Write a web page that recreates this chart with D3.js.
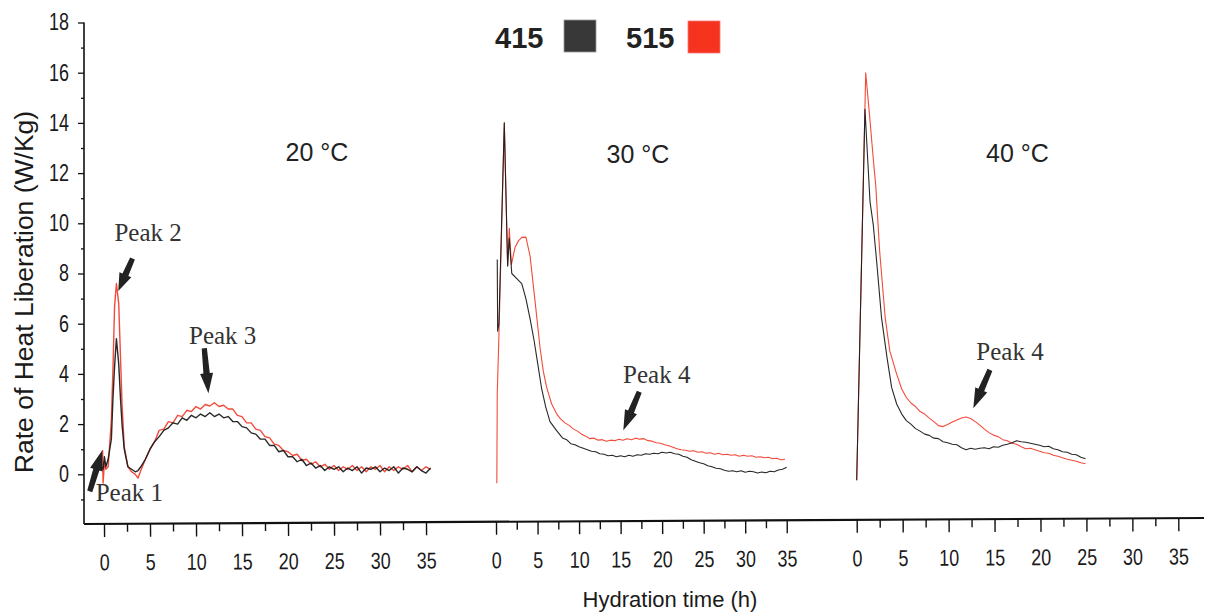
<!DOCTYPE html>
<html><head><meta charset="utf-8">
<script src="https://cdn.jsdelivr.net/npm/d3@7"></script>
<style>html,body{margin:0;padding:0;background:#fff;} svg{display:block;}</style>
</head><body>
<svg id="chart" width="1207" height="613"></svg>
<script>
// ================= DATA =================
const seriesNames = ["415", "515"];
const panelTitles = ["20 °C", "30 °C", "40 °C"];
const xTickValues = [0, 5, 10, 15, 20, 25, 30, 35];
const xMinorTicks = [2.5, 7.5, 12.5, 17.5, 22.5, 27.5, 32.5];
const yTickValues = [0, 2, 4, 6, 8, 10, 12, 14, 16, 18];
const yMinorTicks = [-1, 1, 3, 5, 7, 9, 11, 13, 15, 17];
const yTitle = "Rate of Heat Liberation (W/Kg)";
const xTitle = "Hydration time (h)";

// 20 °C  (hydration time h, rate W/kg)
const t20 = [-0.15,-0.1,0.05,0.2,0.45,0.8,0.97,1.15,1.35,1.6,1.78,1.96,2.2,2.6,3.0,3.4,3.7,4.0,
  4.5,5,5.5,6,6.5,7,7.5,8,8.5,9,9.5,10,10.5,11,11.5,12,12.5,13,13.5,14,14.5,15,15.5,16,16.5,17,17.5,18,
  18.5,19,19.5,20,20.5,21,21.5,22,22.5,23,23.5,24,24.5,25,25.5,26,26.5,27,27.5,28,28.5,29,29.5,30,30.5,
  31,31.5,32,32.5,33,33.5,34,34.5,35,35.5];
const v20_415 = [0.3,0.2,0.7,0.3,0.6,1.4,3.0,4.3,5.4,4.4,3.1,2.0,1.0,0.3,0.2,0.1,0.15,0.3,
  0.6,1.0,1.3,1.5,1.75,1.85,2.05,2.0,2.25,2.15,2.35,2.25,2.4,2.3,2.45,2.3,2.4,2.25,2.3,2.1,2.1,1.9,1.85,1.65,1.6,1.4,1.4,1.15,
  1.15,0.9,0.95,0.7,0.7,0.5,0.6,0.35,0.45,0.25,0.35,0.15,0.3,0.2,0.3,0.1,0.25,0.15,0.3,0.05,0.25,0.2,0.3,0.1,0.25,
  0.15,0.3,0.05,0.25,0.2,0.1,0.3,0.15,0.05,0.25];
const v20_515 = [0.97,-0.35,0.5,0.2,0.3,2.16,4.15,6.7,7.6,6.8,4.8,2.8,1.1,0.3,0.1,0.0,-0.15,0.15,
  0.6,1.0,1.3,1.75,1.8,2.1,2.05,2.35,2.3,2.55,2.5,2.7,2.6,2.78,2.72,2.85,2.7,2.75,2.6,2.6,2.35,2.3,2.05,2.05,1.8,1.75,1.5,1.45,
  1.2,1.15,0.95,0.9,0.75,0.8,0.55,0.6,0.4,0.5,0.3,0.4,0.2,0.35,0.15,0.3,0.2,0.35,0.15,0.3,0.1,0.3,0.2,0.35,0.1,
  0.3,0.15,0.3,0.2,0.35,0.1,0.3,0.15,0.3,0.2];

// 30 °C
const t30_415 = [0.15,0.2,0.35,1.0,1.4,1.6,1.9,2.5,3.1,3.6,4.1,4.6,5.1,5.5,6.0,6.5,7.3,
  8,8.5,9,9.5,10,10.5,11,11.5,12,12.5,13,13.5,14,14.5,15,15.5,16,16.5,17,17.5,18,18.5,19,19.5,20,20.5,
  21,21.5,22,22.5,23,23.5,24,24.5,25,25.5,26,26.5,27,27.5,28,28.5,29,29.5,30,30.5,31,31.5,32,32.5,33,33.5,34,34.5,35];
const v30_415 = [8.56,5.7,6.0,14.0,8.3,9.4,8.0,7.8,7.6,7.0,6.2,5.3,4.25,3.4,2.67,2.1,1.74,
  1.45,1.38,1.22,1.18,1.1,1.04,0.98,0.92,0.9,0.82,0.8,0.74,0.76,0.7,0.74,0.7,0.76,0.72,0.78,0.76,0.82,0.8,0.84,0.82,0.88,0.85,
  0.88,0.82,0.8,0.72,0.68,0.58,0.52,0.46,0.42,0.34,0.3,0.24,0.22,0.16,0.12,0.14,0.1,0.14,0.08,0.12,0.1,0.05,0.09,0.06,0.12,0.1,0.17,0.2,0.28];
const t30_515 = [0.1,0.15,0.35,1.0,1.4,1.6,1.85,2.3,2.7,3.1,3.6,4.1,4.7,5.3,5.7,6.1,6.7,7.3,7.8,8.3,8.8,9.3,9.8,
  10.3,10.8,11.3,11.8,12.3,12.8,13.3,13.8,14.3,14.8,15.3,15.8,16.3,16.8,17.3,17.8,18.3,18.8,19.3,19.8,20.3,20.8,
  21.3,21.8,22.3,22.8,23.3,23.8,24.3,24.8,25.3,25.8,26.3,26.8,27.3,27.8,28.3,28.8,29.3,29.8,30.3,30.8,31.3,31.8,
  32.3,32.8,33.3,33.8,34.3,34.8];
const v30_515 = [-0.36,3.2,5.5,14.0,8.3,9.8,8.35,9.05,9.3,9.44,9.45,8.7,6.9,5.05,4.1,3.46,2.8,2.41,2.2,2.05,1.95,1.81,1.72,
  1.6,1.52,1.42,1.44,1.36,1.38,1.32,1.36,1.34,1.4,1.36,1.42,1.38,1.44,1.4,1.42,1.34,1.32,1.26,1.24,1.18,1.14,
  1.08,1.02,0.98,0.96,0.92,0.94,0.88,0.9,0.84,0.86,0.8,0.84,0.78,0.8,0.76,0.78,0.72,0.76,0.72,0.74,0.68,0.7,
  0.66,0.68,0.62,0.64,0.58,0.6];

// 40 °C
const t40_415 = [0,0.9,1.45,1.8,2.2,2.7,3.3,3.8,4.35,4.9,5.4,5.9,6.4,6.9,7.4,7.9,8.4,8.9,9.4,9.9,10.4,10.9,11.4,11.9,
  12.4,12.9,13.4,13.9,14.4,14.9,15.4,15.9,16.4,16.9,17.4,17.9,18.4,18.9,19.4,19.9,20.4,20.9,21.4,21.9,22.4,22.9,
  23.4,23.9,24.4,24.9];
const v40_415 = [-0.24,14.54,10.86,9.95,8.37,6.24,4.65,3.46,2.8,2.4,2.14,2.0,1.82,1.72,1.6,1.55,1.44,1.42,1.3,1.26,1.2,1.18,1.06,0.98,
  1.04,1.0,1.04,1.06,1.02,1.1,1.08,1.16,1.2,1.26,1.34,1.3,1.28,1.24,1.2,1.16,1.1,1.12,1.02,0.98,0.9,0.88,
  0.8,0.78,0.68,0.62];
const t40_515 = [0,0.98,1.4,1.8,2.07,2.5,3.1,3.6,4.35,4.9,5.4,5.9,6.4,6.9,7.4,7.9,8.4,8.9,9.4,9.9,10.4,10.9,11.4,11.9,
  12.4,12.9,13.4,13.9,14.4,14.9,15.4,15.9,16.4,16.9,17.4,17.9,18.4,18.9,19.4,19.9,20.4,20.9,21.4,21.9,22.4,22.9,
  23.4,23.9,24.4,24.9];
const v40_515 = [-0.24,16.0,14.3,12.58,11.52,8.88,6.24,4.92,3.99,3.4,3.06,2.84,2.7,2.5,2.4,2.24,2.1,1.94,1.9,1.98,2.08,2.16,2.24,2.28,
  2.22,2.1,1.96,1.8,1.66,1.56,1.5,1.38,1.34,1.24,1.2,1.1,1.02,1.04,0.98,0.92,0.86,0.84,0.76,0.72,0.66,0.6,
  0.56,0.52,0.46,0.42];

// annotations (data units of their panel)
const peakLabels = ["Peak 1", "Peak 2", "Peak 3", "Peak 4", "Peak 4"];
const peakPanel  = [0, 0, 0, 1, 2];
const peakTextT  = [-0.9, 4.8, 12.9, 19.35, 16.68];
const peakTextV  = [-1.06, 9.3, 5.2, 3.64, 4.55];
const arrowTailT = [-1.55, 3.1, 10.9, 17.25, 14.5];
const arrowTailV = [-0.68, 8.6, 5.02, 3.29, 4.16];
const arrowHeadT = [-0.2, 1.55, 11.35, 15.33, 12.69];
const arrowHeadV = [0.95, 7.3, 3.23, 1.76, 2.63];

// ================= LAYOUT / STYLE =================
const colors = {"415": "#1c1c1c", "515": "#f2402f"};
const panelRange = [[104, 426], [496, 786.7], [856.7, 1178.3]];
const titleT = [23.15, 17.1, 17.5];
const titleV = [12.5, 12.4, 12.45];
const axisFont = "'Liberation Sans', Arial, Helvetica, sans-serif";
const serifFont = "'Liberation Serif', 'Times New Roman', serif";
const condense = 0.78;

const svg = d3.select("#chart");
const y = d3.scaleLinear().domain([-1.98, 18]).range([524, 22.5]);
const xs = panelRange.map(r => d3.scaleLinear().domain([0, 35]).range(r));

const panels = [
  [{name: "515", t: t20, v: v20_515}, {name: "415", t: t20, v: v20_415}],
  [{name: "515", t: t30_515, v: v30_515}, {name: "415", t: t30_415, v: v30_415}],
  [{name: "515", t: t40_515, v: v40_515}, {name: "415", t: t40_415, v: v40_415}]
];

// ---- Y axis ----
const yAxisG = svg.append("g").attr("transform", "translate(84,0)");
yAxisG.append("line")
  .attr("x1", 0).attr("x2", 0).attr("y1", y(18)).attr("y2", y(-1.98))
  .attr("stroke", "#111").attr("stroke-width", 1.6);
const yMaj = yAxisG.append("g").call(d3.axisLeft(y).tickValues(yTickValues).tickSize(6).tickPadding(9).tickFormat(d3.format("d")));
yMaj.select(".domain").remove();
yMaj.selectAll("line").attr("stroke", "#111").attr("stroke-width", 1.3);
yMaj.selectAll("text")
  .attr("font-family", axisFont).attr("font-size", 23).attr("fill", "#1a1a1a")
  .attr("x", -15 / condense).attr("transform", `scale(${condense},1)`);
const yMin = yAxisG.append("g").call(d3.axisLeft(y).tickValues(yMinorTicks).tickSize(3).tickFormat(""));
yMin.select(".domain").remove();
yMin.selectAll("line").attr("stroke", "#111").attr("stroke-width", 1.3);

// Y title
svg.append("text")
  .attr("transform", "translate(33,292) rotate(-90)")
  .attr("text-anchor", "middle")
  .attr("font-family", axisFont).attr("font-size", 26.5).attr("fill", "#1a1a1a")
  .text(yTitle);

// ---- X axis (slightly tilted baseline, as in reference) ----
const xAxisG = svg.append("g").attr("transform", "rotate(-0.307,84,524)");
xAxisG.append("line")
  .attr("x1", 84).attr("x2", 1204).attr("y1", 524).attr("y2", 524)
  .attr("stroke", "#111").attr("stroke-width", 2.2);
xs.forEach(x => {
  const g = xAxisG.append("g").attr("transform", "translate(0,524)");
  const maj = g.append("g").call(d3.axisBottom(x).tickValues(xTickValues).tickSize(13).tickPadding(17).tickFormat(d3.format("d")));
  maj.select(".domain").remove();
  maj.selectAll("line").attr("stroke", "#111").attr("stroke-width", 1.4);
  maj.selectAll("text")
    .attr("font-family", axisFont).attr("font-size", 23).attr("fill", "#1a1a1a")
    .attr("transform", `scale(${condense},1)`);
  // fix x-position after condensing (ticks are translated groups so x=0 stays centered)
  const mn = g.append("g").call(d3.axisBottom(x).tickValues(xMinorTicks).tickSize(8).tickFormat(""));
  mn.select(".domain").remove();
  mn.selectAll("line").attr("stroke", "#111").attr("stroke-width", 1.4);
});

// X title
svg.append("text")
  .attr("x", 670).attr("y", 607)
  .attr("text-anchor", "middle")
  .attr("font-family", axisFont).attr("font-size", 22).attr("fill", "#1a1a1a")
  .text(xTitle);

// ---- lines ----
panels.forEach((ser, pi) => {
  const x = xs[pi];
  const line = d3.line().x(d => x(d[0])).y(d => y(d[1]));
  ser.forEach(s => {
    const pts = s.t.map((t, i) => [t, s.v[i]]);
    svg.append("path")
      .datum(pts)
      .attr("d", line)
      .attr("fill", "none")
      .attr("stroke", colors[s.name])
      .attr("stroke-width", pi === 0 ? 1.4 : 1.1)
      .attr("stroke-linejoin", "round")
      .attr("opacity", s.name === "515" ? 0.95 : 0.95);
  });
  svg.append("text")
    .attr("x", x(titleT[pi])).attr("y", y(titleV[pi]))
    .attr("text-anchor", "middle")
    .attr("font-family", axisFont).attr("font-size", 25).attr("fill", "#222")
    .text(panelTitles[pi]);
});

// ---- annotations ----
function arrowPath(x1, y1, x2, y2) {
  const dx = x2 - x1, dy = y2 - y1, L = Math.hypot(dx, dy);
  const ux = dx / L, uy = dy / L, px = -uy, py = ux;
  const hl = Math.min(20, L * 0.5), hw = 6.5, sw = 3.2, tw = 2.6;
  const bx = x2 - ux * hl, by = y2 - uy * hl;
  const p = [
    [x1 + px * tw, y1 + py * tw],
    [bx + px * sw, by + py * sw],
    [bx + px * hw, by + py * hw],
    [x2, y2],
    [bx - px * hw, by - py * hw],
    [bx - px * sw, by - py * sw],
    [x1 - px * tw, y1 - py * tw]
  ];
  return "M" + p.map(q => q[0].toFixed(2) + "," + q[1].toFixed(2)).join("L") + "Z";
}
peakLabels.forEach((lab, i) => {
  const x = xs[peakPanel[i]];
  svg.append("path")
    .attr("d", arrowPath(x(arrowTailT[i]), y(arrowTailV[i]), x(arrowHeadT[i]), y(arrowHeadV[i])))
    .attr("fill", "#222");
  svg.append("text")
    .attr("x", x(peakTextT[i])).attr("y", y(peakTextV[i]))
    .attr("text-anchor", i === 0 ? "start" : "middle")
    .attr("font-family", serifFont).attr("font-size", 25).attr("fill", "#333")
    .text(lab);
});

// ---- legend ----
const legendText = [543.5, 674.5];
const legendBox = [[564, 20], [688, 21]];
seriesNames.forEach((n, i) => {
  svg.append("text")
    .attr("x", legendText[i]).attr("y", 48)
    .attr("text-anchor", "end")
    .attr("font-family", axisFont).attr("font-weight", "bold").attr("font-size", 29).attr("fill", "#222")
    .text(n);
  svg.append("rect")
    .attr("x", legendBox[i][0]).attr("y", legendBox[i][1])
    .attr("width", 32).attr("height", 32)
    .attr("fill", i === 0 ? "#383838" : "#f5331f")
    .attr("stroke", i === 0 ? "#9a9a9a" : "#f77")
    .attr("stroke-width", 0.8);
});
</script>
</body></html>
